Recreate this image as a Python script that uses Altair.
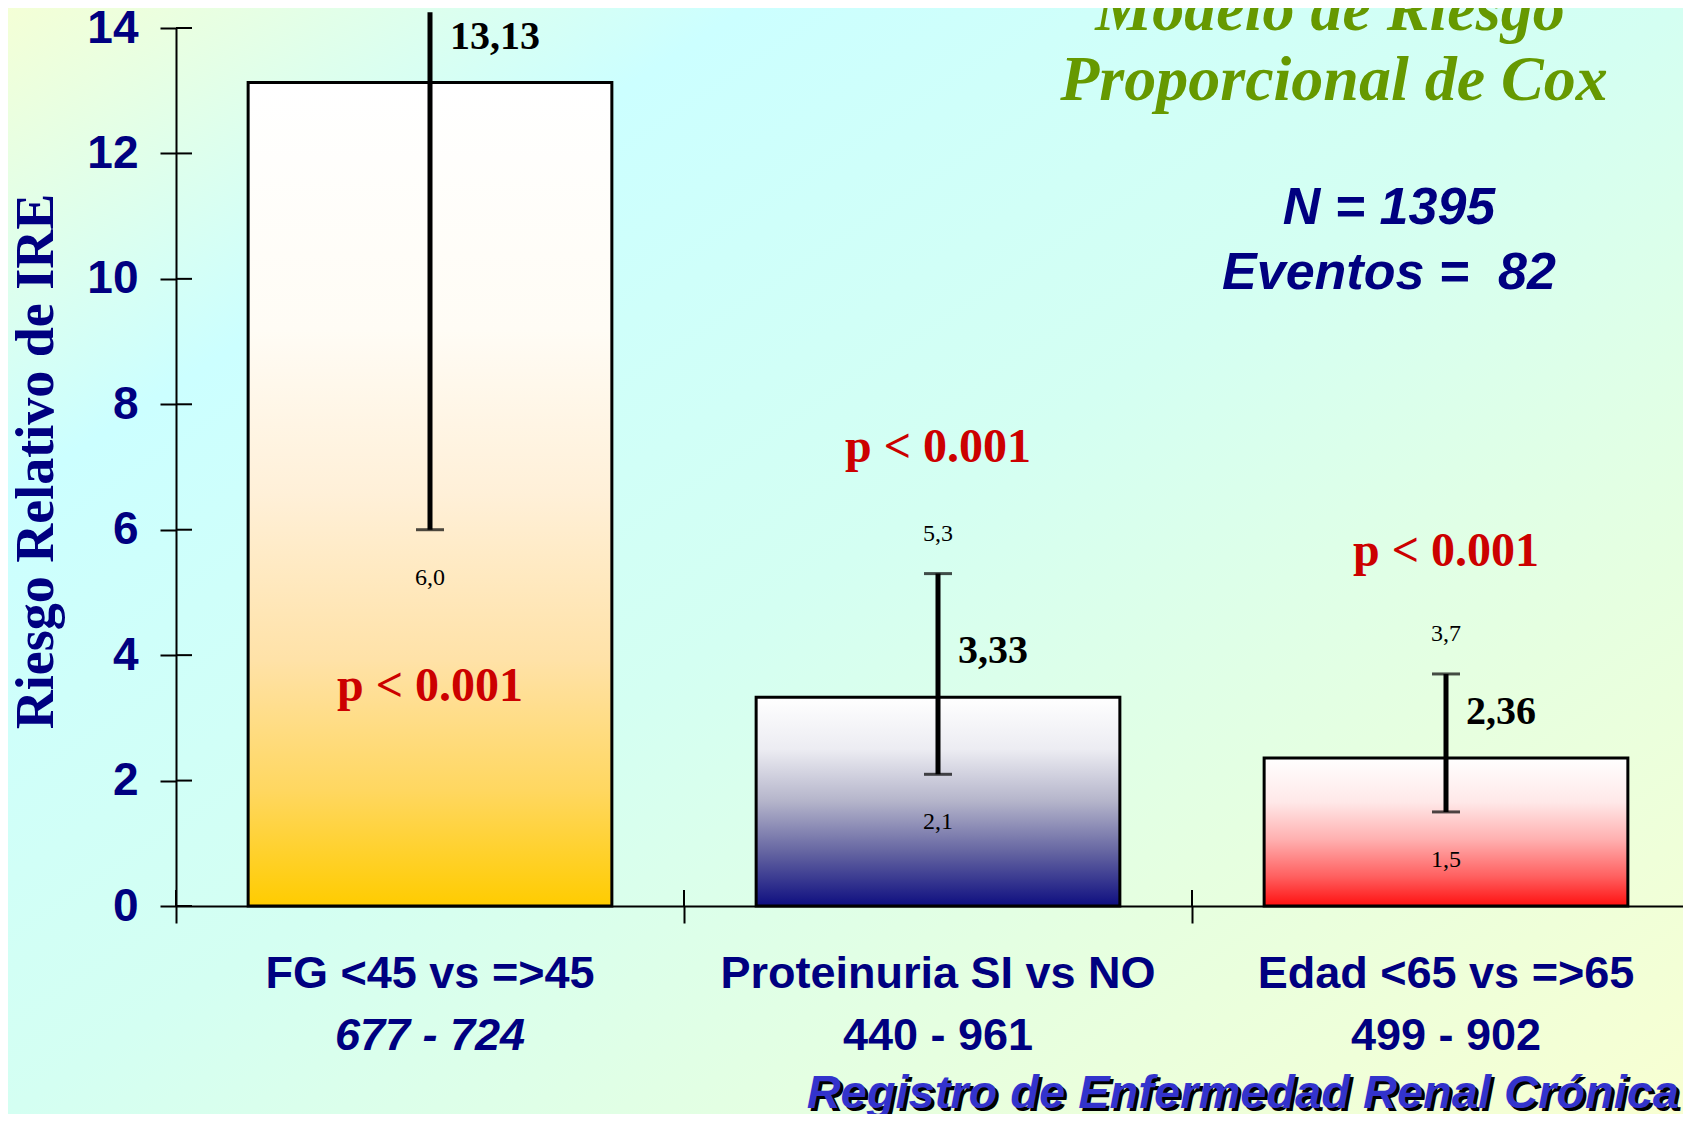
import altair as alt
import pandas as pd

# ---------------- data ----------------
CATEGORIES = ["FG <45 vs =>45", "Proteinuria SI vs NO", "Edad <65 vs =>65"]
COUNTS = ["677 - 724", "440 - 961", "499 - 902"]
COUNT_STYLE = ["italic", "normal", "normal"]
RR = [13.13, 3.33, 2.36]
CI_LOW = [6.0, 2.1, 1.5]
CI_HIGH = [14.25, 5.3, 3.7]          # first upper limit runs off the chart
RR_LABELS = ["13,13", "3,33", "2,36"]
LOW_LABELS = ["6,0", "2,1", "1,5"]
HIGH_LABELS = ["", "5,3", "3,7"]
P_LABELS = ["p < 0.001", "p < 0.001", "p < 0.001"]
Y_TICKS = [0, 2, 4, 6, 8, 10, 12, 14]

# annotation anchor (value units) for the p-labels
P_LABEL_Y = [3.5, 7.3, 5.65]

df = pd.DataFrame({
    "cat": CATEGORIES, "count": COUNTS, "cstyle": COUNT_STYLE,
    "rr": RR, "lo": CI_LOW, "hi": CI_HIGH,
    "rr_label": RR_LABELS, "lo_label": LOW_LABELS, "hi_label": HIGH_LABELS,
    "p_label": P_LABELS, "p_y": P_LABEL_Y,
})
ticks_df = pd.DataFrame({"t": Y_TICKS})
one = pd.DataFrame({"a": [0]})

# ---------------- layout ----------------
W, H = 1507, 878
PAD_L, PAD_T, PAD_R, PAD_B = 168, 20, 0, 208

NAVY = "#000080"
SERIF = "Liberation Serif"
SANS = "Liberation Sans"

XS = alt.Scale(domain=CATEGORIES, range=[0, 1524], paddingInner=0, paddingOuter=0)
YS = alt.Scale(domain=[0, 14], nice=False)

y_axis = alt.Axis(
    values=Y_TICKS, grid=False, zindex=2,
    labelFont=SANS, labelFontWeight="bold", labelFontSize=46, labelColor=NAVY,
    labelPadding=22, labelBaseline="middle",
    tickSize=16, tickColor="black", tickWidth=2,
    domainColor="black", domainWidth=2,
    title="Riesgo Relativo de IRE", titleFont=SERIF, titleFontSize=54,
    titleFontWeight="bold", titleColor=NAVY, titleX=-140, titleY=433,
    titleAngle=270, titleAlign="center", titleBaseline="middle",
)
x_axis = alt.Axis(
    labels=False, title=None, grid=False, zindex=2, bandPosition=0,
    tickSize=17, tickColor="black", tickWidth=2,
    domainColor="black", domainWidth=2,
)


def X(**kw):
    return alt.X("cat:N", scale=XS, axis=x_axis, sort=CATEGORIES, **kw)


def Y(field):
    return alt.Y(field, type="quantitative", scale=YS, axis=y_axis)


def grad(stops, x2=0, y2=1):
    return {"gradient": "linear", "x1": 0, "y1": 0, "x2": x2, "y2": y2,
            "stops": [{"offset": o, "color": c} for o, c in stops]}


BG = grad([(0, "#f4ffd6"), (0.22, "#ccffff"), (0.5, "#d4fff2"),
           (0.75, "#e6ffe0"), (1, "#f8ffd2")], x2=1, y2=1)
G_GOLD = grad([(0, "#ffffff"), (0.3, "#fffcf5"), (0.5, "#fff0d8"),
               (0.7, "#ffe2a8"), (0.86, "#ffd760"), (1, "#ffcc00")])
G_NAVY = grad([(0, "#ffffff"), (0.25, "#ececf2"), (0.5, "#b4b4ca"),
               (0.75, "#6262a0"), (1, "#0e0e80")])
G_RED = grad([(0, "#ffffff"), (0.3, "#ffe8e8"), (0.55, "#ffb0b0"),
              (0.8, "#ff6060"), (1, "#ff1010")])

background = alt.Chart(one).mark_rect(fill=BG, strokeWidth=0).encode(
    x=alt.value(-PAD_L), x2=alt.value(W + PAD_R),
    y=alt.value(-PAD_T), y2=alt.value(H + PAD_B),
)

bar_kw = dict(stroke="black", strokeWidth=3, width=alt.RelativeBandSize(0.716))
bar1 = alt.Chart(df).transform_filter(alt.datum.cat == CATEGORIES[0]).mark_bar(
    fill=G_GOLD, **bar_kw).encode(x=X(), y=Y("rr"))
bar2 = alt.Chart(df).transform_filter(alt.datum.cat == CATEGORIES[1]).mark_bar(
    fill=G_NAVY, **bar_kw).encode(x=X(), y=Y("rr"))
bar3 = alt.Chart(df).transform_filter(alt.datum.cat == CATEGORIES[2]).mark_bar(
    fill=G_RED, **bar_kw).encode(x=X(), y=Y("rr"))

# inner halves of the crossing ticks
y_inner = alt.Chart(ticks_df).mark_rule(color="black", strokeWidth=2).encode(
    y=Y("t"), x=alt.value(0), x2=alt.value(16))
x_inner = alt.Chart(df).mark_rule(color="black", strokeWidth=2).encode(
    x=X(bandPosition=0), y=alt.value(H - 16), y2=alt.value(H))

err = alt.Chart(df).mark_rule(color="black", strokeWidth=5).encode(
    x=X(), y=Y("lo"), y2="hi")
cap_lo = alt.Chart(df).mark_tick(color="black", size=28, thickness=3).encode(
    x=X(), y=Y("lo"))
cap_hi = alt.Chart(df).transform_filter(alt.datum.hi < 14).mark_tick(
    color="black", size=28, thickness=3).encode(x=X(), y=Y("hi"))

rr_text = alt.Chart(df).mark_text(
    font=SERIF, fontWeight="bold", fontSize=40, align="left", baseline="middle",
    dx=20, dy=-46, color="black").encode(x=X(), y=Y("rr"), text="rr_label")
lo_text = alt.Chart(df).mark_text(
    font=SERIF, fontSize=24, align="center", baseline="middle", dy=48,
    color="black").encode(x=X(), y=Y("lo"), text="lo_label")
hi_text = alt.Chart(df).transform_filter(alt.datum.hi_label != "").mark_text(
    font=SERIF, fontSize=24, align="center", baseline="middle", dy=-40,
    color="black").encode(x=X(), y=Y("hi"), text="hi_label")
p_text = alt.Chart(df).mark_text(
    font=SERIF, fontWeight="bold", fontSize=48, align="center", baseline="middle",
    color="#cc0000").encode(x=X(), y=Y("p_y"), text="p_label")

cat_text = alt.Chart(df).mark_text(
    font=SANS, fontWeight="bold", fontSize=45, align="center", baseline="middle",
    color=NAVY).encode(x=X(), y=alt.value(H + 68), text="cat")
cnt_text_i = alt.Chart(df).transform_filter(alt.datum.cstyle == "italic").mark_text(
    font=SANS, fontWeight="bold", fontStyle="italic", fontSize=45, align="center",
    baseline="middle", color=NAVY).encode(x=X(), y=alt.value(H + 130), text="count")
cnt_text_n = alt.Chart(df).transform_filter(alt.datum.cstyle == "normal").mark_text(
    font=SANS, fontWeight="bold", fontSize=45, align="center",
    baseline="middle", color=NAVY).encode(x=X(), y=alt.value(H + 130), text="count")

TITLE_1 = "Modelo de Riesgo"
TITLE_2 = "Proporcional de Cox"
title_kw = dict(font=SERIF, fontWeight="bold", fontStyle="italic", fontSize=64,
                align="center", baseline="middle", color="#669900")
t1 = alt.Chart(one).mark_text(text=TITLE_1, **title_kw).encode(
    x=alt.value(1154), y=alt.value(-17))
t2 = alt.Chart(one).mark_text(text=TITLE_2, **title_kw).encode(
    x=alt.value(1158), y=alt.value(53))

N_TEXT = "N = 1395"
EV_TEXT = "Eventos =\u00a0\u00a082"
nk = dict(font=SANS, fontWeight="bold", fontStyle="italic", fontSize=52,
          align="center", baseline="middle", color=NAVY)
n1 = alt.Chart(one).mark_text(text=N_TEXT, **nk).encode(
    x=alt.value(1213), y=alt.value(180))
n2 = alt.Chart(one).mark_text(text=EV_TEXT, **nk).encode(
    x=alt.value(1213), y=alt.value(245))

SOURCE = "Registro de Enfermedad Renal Crónica"
sk = dict(font=SANS, fontWeight="bold", fontStyle="italic", fontSize=47,
          align="right", baseline="alphabetic")
src_sh = alt.Chart(one).mark_text(text=SOURCE, color="black", **sk).encode(
    x=alt.value(W - 1), y=alt.value(1083))
src = alt.Chart(one).mark_text(text=SOURCE, color="#3333cc", **sk).encode(
    x=alt.value(W - 4), y=alt.value(1080))

chart = alt.layer(
    background, bar1, bar2, bar3, y_inner, x_inner, err, cap_lo, cap_hi,
    rr_text, lo_text, hi_text, p_text, cat_text, cnt_text_i, cnt_text_n,
    t1, t2, n1, n2, src_sh, src,
).properties(
    width=W, height=H,
    autosize=alt.AutoSizeParams(type="none"),
    padding={"left": PAD_L, "top": PAD_T, "right": PAD_R, "bottom": PAD_B},
).configure_view(strokeWidth=0)

chart.save("out.html", embed_options={"renderer": "svg", "actions": False})
